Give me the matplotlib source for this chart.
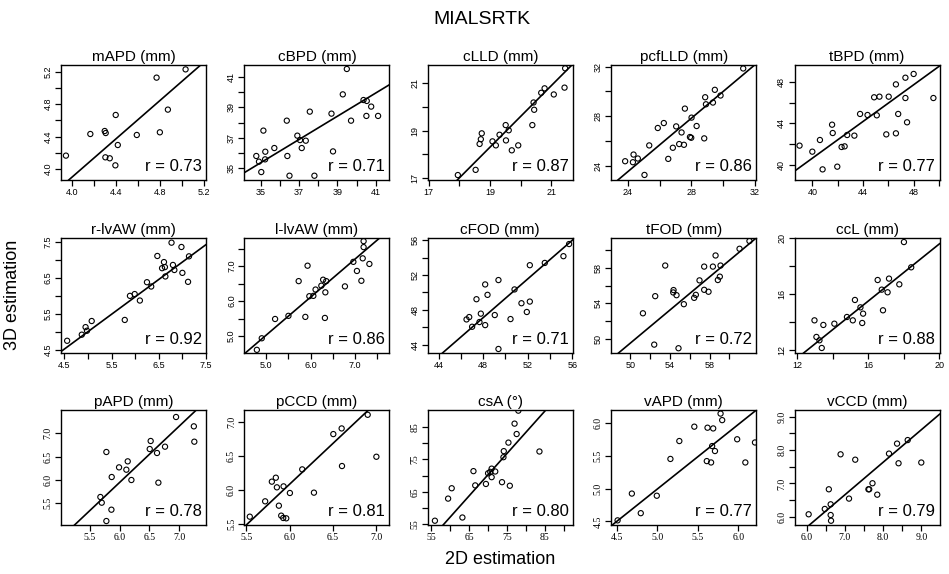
import numpy as np
import matplotlib
matplotlib.use("Agg")
import matplotlib.pyplot as plt
from matplotlib import font_manager

# ---------------- data ----------------
titles = ["mAPD (mm)", "cBPD (mm)", "cLLD (mm)", "pcfLLD (mm)", "tBPD (mm)",
          "r-lvAW (mm)", "l-lvAW (mm)", "cFOD (mm)", "tFOD (mm)", "ccL (mm)",
          "pAPD (mm)", "pCCD (mm)", "csA (°)", "vAPD (mm)", "vCCD (mm)"]
r_values = ["0.73", "0.71", "0.87", "0.86", "0.77",
            "0.92", "0.86", "0.71", "0.72", "0.88",
            "0.78", "0.81", "0.80", "0.77", "0.79"]

mAPD_x = [3.945, 4.167, 4.298, 4.307, 4.304, 4.344, 4.398, 4.417, 4.395, 4.590, 4.770, 4.800, 4.873, 5.034]
mAPD_y = [4.165, 4.432, 4.469, 4.444, 4.144, 4.132, 4.667, 4.296, 4.045, 4.420, 5.128, 4.453, 4.733, 5.230]

cBPD_x = [34.77, 34.91, 35.03, 35.14, 35.24, 35.23, 35.71, 36.36, 36.39, 36.50, 36.91, 37.05, 37.14,
          37.35, 37.56, 37.80, 38.69, 38.77, 39.28, 39.49, 39.71, 40.36, 40.53, 40.76, 40.51, 41.12]
cBPD_y = [35.81, 35.44, 34.76, 37.47, 36.09, 35.59, 36.33, 38.12, 35.81, 34.52, 37.14, 36.85, 36.33,
          36.81, 38.71, 34.52, 38.58, 36.11, 39.84, 41.50, 38.12, 39.47, 39.41, 39.04, 38.43, 38.43]

cLLD_x = [17.95, 18.53, 18.66, 18.70, 18.73, 19.08, 19.19, 19.31, 19.52, 19.51, 19.61, 19.71, 19.92,
          20.38, 20.42, 20.44, 20.67, 20.78, 21.08, 21.43, 21.45]
cLLD_y = [17.11, 17.33, 18.43, 18.63, 18.88, 18.54, 18.37, 18.82, 18.58, 19.23, 19.01, 18.16, 18.37,
          19.23, 20.19, 19.88, 20.60, 20.79, 20.53, 20.82, 21.64]

pcfLLD_x = [23.83, 24.32, 24.36, 24.63, 25.05, 25.35, 25.89, 26.27, 26.55, 26.84, 27.05, 27.24, 27.39,
            27.54, 27.60, 27.92, 28.00, 28.02, 28.34, 28.82, 28.88, 28.93, 29.37, 29.49, 29.85, 31.28]
pcfLLD_y = [24.35, 24.27, 24.89, 24.57, 23.24, 25.63, 27.04, 27.44, 24.54, 25.44, 27.17, 25.74, 26.68,
            25.68, 28.61, 26.31, 26.25, 27.88, 27.20, 26.20, 29.53, 28.96, 29.10, 30.13, 29.67, 31.86]

tBPD_x = [38.99, 40.00, 40.60, 40.81, 41.56, 41.61, 41.97, 42.31, 42.55, 42.75, 43.32, 43.77, 44.36,
          44.88, 45.09, 45.30, 45.84, 46.03, 46.60, 46.60, 46.78, 47.35, 47.35, 47.48, 48.00, 49.56]
tBPD_y = [41.86, 41.28, 42.40, 39.58, 43.87, 43.07, 39.84, 41.73, 41.79, 42.88, 42.82, 44.90, 44.80,
          46.50, 44.77, 46.56, 42.94, 46.56, 47.74, 43.04, 44.90, 46.43, 48.38, 44.10, 48.74, 46.43]

rlvAW_x = [4.56, 4.87, 4.95, 4.98, 5.08, 5.78, 5.89, 5.99, 6.10, 6.25, 6.34, 6.47, 6.57, 6.61, 6.63,
           6.64, 6.77, 6.80, 6.83, 6.98, 7.00, 7.14, 7.12]
rlvAW_y = [4.75, 4.92, 5.13, 5.03, 5.30, 5.33, 6.00, 6.05, 5.87, 6.38, 6.26, 7.11, 6.77, 6.94, 6.80,
           6.54, 7.48, 6.86, 6.72, 7.36, 6.64, 7.10, 6.39]

llvAW_x = [4.79, 4.90, 5.20, 5.50, 5.73, 5.88, 5.93, 5.97, 6.06, 6.11, 6.24, 6.28, 6.35, 6.33, 6.32,
           6.77, 6.96, 7.04, 7.14, 7.17, 7.19, 7.19, 7.32]
llvAW_y = [4.61, 4.94, 5.49, 5.58, 6.57, 5.55, 7.01, 6.14, 6.15, 6.33, 6.44, 6.61, 6.57, 6.25, 5.52,
           6.42, 7.12, 6.86, 6.58, 7.22, 7.71, 7.54, 7.06]

cFOD_x = [46.51, 46.75, 47.01, 47.40, 47.67, 47.79, 48.18, 48.18, 48.39, 49.04, 49.37, 49.37, 50.45,
          50.81, 51.43, 51.91, 52.18, 52.18, 53.52, 55.19, 55.70]
cFOD_y = [46.92, 47.19, 46.08, 49.23, 46.62, 47.58, 50.92, 46.27, 49.73, 47.42, 51.42, 43.54, 46.96,
          50.35, 48.77, 47.77, 48.96, 53.12, 53.38, 54.15, 55.54]

tFOD_x = [51.28, 52.42, 52.52, 53.53, 54.37, 54.34, 54.67, 54.87, 55.41, 56.45, 56.62, 56.99, 57.46,
          57.46, 57.90, 58.34, 58.61, 58.84, 59.04, 59.11, 61.03, 62.03]
tFOD_y = [52.86, 49.31, 54.80, 58.27, 55.49, 55.22, 54.91, 48.90, 53.89, 54.61, 54.95, 56.59, 58.15,
          55.52, 55.30, 58.15, 59.41, 56.63, 57.01, 58.27, 60.17, 61.05]

ccL_x = [12.97, 13.08, 13.25, 13.38, 13.47, 14.09, 14.80, 15.13, 15.25, 15.56, 15.66, 15.71, 16.53,
         16.76, 16.83, 17.09, 17.17, 17.75, 18.01, 18.42]
ccL_y = [14.10, 12.91, 12.67, 12.12, 13.77, 13.86, 14.34, 14.10, 15.56, 15.03, 13.91, 14.58, 16.99,
         16.30, 14.82, 16.11, 17.09, 16.68, 19.71, 17.90]

pAPD_x = [5.775, 5.674, 5.697, 5.775, 5.865, 5.860, 5.989, 6.112, 6.135, 6.197, 6.506, 6.522, 6.629,
          6.652, 6.764, 7.258, 6.950, 7.250]
pAPD_y = [6.600, 5.636, 5.514, 5.121, 6.064, 5.364, 6.271, 6.221, 6.400, 6.000, 6.664, 6.836, 6.579,
          5.943, 6.714, 6.821, 7.350, 7.150]

pCCD_x = [5.542, 5.719, 5.796, 5.842, 5.854, 5.877, 5.904, 5.927, 5.962, 5.931, 6.004, 6.146, 6.281,
          6.504, 6.604, 7.000, 6.600, 6.900]
pCCD_y = [5.607, 5.832, 6.120, 6.178, 6.037, 5.768, 5.622, 5.588, 5.583, 6.051, 5.954, 6.300, 5.959,
          6.817, 6.349, 6.485, 6.900, 7.100]

csA_x = [55.94, 59.43, 60.38, 63.21, 66.13, 66.60, 69.43, 70.00, 70.57, 70.94, 70.94, 71.89, 73.68,
         74.06, 74.15, 75.38, 75.75, 77.55, 83.58, 77.00, 78.00]
csA_y = [56.10, 62.91, 66.10, 57.09, 71.37, 66.98, 67.42, 70.71, 71.15, 72.14, 69.51, 71.26, 67.97,
         75.66, 77.53, 80.16, 66.87, 82.80, 77.42, 86.00, 90.00]

vAPD_x = [4.509, 4.685, 4.795, 4.993, 5.161, 5.271, 5.456, 5.610, 5.663, 5.619, 5.689, 5.676, 5.711,
          5.985, 6.086, 6.205, 5.780, 5.800]
vAPD_y = [4.516, 4.926, 4.626, 4.893, 5.456, 5.730, 5.950, 5.423, 5.402, 5.934, 5.923, 5.653, 5.577,
          5.757, 5.402, 5.708, 6.150, 6.050]

vCCD_x = [6.048, 6.471, 6.577, 6.625, 6.625, 6.635, 6.885, 7.106, 7.269, 7.615, 7.635, 7.721, 7.846,
          8.154, 8.365, 8.404, 8.644, 9.000, 8.750]
vCCD_y = [6.075, 6.235, 6.824, 6.374, 6.053, 5.882, 7.872, 6.545, 7.711, 6.824, 6.824, 7.005, 6.663,
          7.893, 8.193, 7.604, 8.299, 7.626, 9.300]

xs = [mAPD_x, cBPD_x, cLLD_x, pcfLLD_x, tBPD_x, rlvAW_x, llvAW_x, cFOD_x, tFOD_x, ccL_x,
      pAPD_x, pCCD_x, csA_x, vAPD_x, vCCD_x]
ys = [mAPD_y, cBPD_y, cLLD_y, pcfLLD_y, tBPD_y, rlvAW_y, llvAW_y, cFOD_y, tFOD_y, ccL_y,
      pAPD_y, pCCD_y, csA_y, vAPD_y, vCCD_y]

# fitted line (slope, intercept)
line_slope = [1.182, 0.760, 1.305, 1.079, 0.8815, 0.969, 1.086, 1.109, 0.938, 1.022,
              1.200, 1.197, 1.304, 0.989, 0.973]
line_icpt = [-0.829, 8.77, -6.50, -2.39, 5.39, 0.158, -0.40, -6.11, 2.57, -0.87,
             -1.25, -1.10, -20.99, 0.051, -0.15]

# ---------------- axis configuration ----------------
xlims = [(3.90, 5.22), (34.15, 41.71), (16.97, 21.70), (22.95, 32.10), (38.60, 50.05),
         (4.43, 7.50), (4.51, 7.77), (43.04, 56.03), (48.08, 62.71), (11.85, 20.02),
         (5.01, 7.455), (5.48, 7.15), (54.06, 92.4), (4.43, 6.22), (5.68, 9.48)]
ylims = [(3.864, 5.284), (34.24, 41.76), (16.90, 21.78), (22.83, 32.14), (38.56, 49.60),
         (4.41, 7.61), (4.52, 7.80), (43.08, 56.23), (48.36, 61.39), (11.76, 19.93),
         (5.036, 7.50), (5.485, 7.17), (54.78, 90.2), (4.445, 6.205), (5.754, 9.20)]
# (start, stop, step, label every k, decimals)
xtick_cfg = [(4.0, 5.2, 0.2, 2, 1), (35, 41, 1, 2, 0), (17, 21, 1, 2, 0), (24, 32, 2, 2, 0), (40, 50, 2, 2, 0),
             (4.5, 7.5, 0.5, 2, 1), (5.0, 7.5, 0.5, 2, 1), (44, 56, 2, 2, 0), (50, 60, 2, 2, 0), (12, 20, 2, 2, 0),
             (5.5, 7.0, 0.5, 1, 1), (5.5, 7.0, 0.5, 1, 1), (55, 90, 5, 2, 0), (4.5, 6.0, 0.5, 1, 1), (6.0, 9.0, 0.5, 2, 1)]
ytick_cfg = [(4.0, 5.2, 0.2, 2, 1), (35, 41, 1, 2, 0), (17, 21, 1, 2, 0), (24, 32, 2, 2, 0), (40, 48, 2, 2, 0),
             (4.5, 7.5, 0.5, 2, 1), (5.0, 7.5, 0.5, 2, 1), (44, 56, 2, 2, 0), (50, 60, 2, 2, 0), (12, 20, 2, 2, 0),
             (5.5, 7.0, 0.5, 1, 1), (5.5, 7.0, 0.5, 1, 1), (55, 85, 5, 2, 0), (4.5, 6.0, 0.5, 1, 1), (6.0, 9.0, 0.5, 2, 1)]

W, H = 949, 574
fig = plt.figure(figsize=(W / 100, H / 100), dpi=100)

col_left = [61, 244.4, 427.8, 611.2, 794.6]
row_top = [65, 238, 410]
aw, ah = 145, 115

sans = "Liberation Sans"
serif = "Liberation Serif"
installed = {f.name for f in font_manager.fontManager.ttflist}
tick_sans = "Liberation Sans Narrow" if "Liberation Sans Narrow" in installed else sans

def make_ticks(cfg):
    a, b, st, k, dec = cfg
    n = int(round((b - a) / st)) + 1
    t = [a + i * st for i in range(n)]
    lab = [(f"{v:.{dec}f}" if i % k == 0 else "") for i, v in enumerate(t)]
    return t, lab

for i in range(15):
    r, c = divmod(i, 5)
    L = col_left[c]
    T = row_top[r]
    ax = fig.add_axes([L / W, 1 - (T + ah) / H, aw / W, ah / H])
    ax.scatter(xs[i], ys[i], s=14, facecolors="none", edgecolors="black", linewidths=0.8, zorder=3)
    ax.axline((0, line_icpt[i]), slope=line_slope[i], color="black", lw=1.2, zorder=2)
    ax.set_xlim(*xlims[i])
    ax.set_ylim(*ylims[i])
    xt, xl = make_ticks(xtick_cfg[i])
    yt, yl = make_ticks(ytick_cfg[i])
    if r == 2:
        tfont, tsize = serif, 7
    else:
        tfont, tsize = tick_sans, 7 if tick_sans != sans else 6.5
    ax.set_xticks(xt)
    ax.set_xticklabels(xl, fontsize=tsize, family=tfont)
    ax.set_yticks(yt)
    ax.set_yticklabels(yl, fontsize=tsize, family=tfont, rotation=90, va="center")
    ax.tick_params(direction="out", length=4, width=0.9, pad=2, colors="black")
    for sp in ax.spines.values():
        sp.set_linewidth(1.0)
        sp.set_color("black")
    ax.set_title(titles[i], fontsize=11, family=sans, pad=3)
    ax.text(0.97, 0.05, f"r = {r_values[i]}", transform=ax.transAxes, ha="right", va="bottom",
            fontsize=12, family=sans)

fig.text(482 / W, 1 - 20 / H, "MIALSRTK", ha="center", va="center", fontsize=14, family=sans)
fig.text(13 / W, 1 - 295 / H, "3D estimation", ha="center", va="center", rotation=90,
         fontsize=13, family=sans)
fig.text(500 / W, 1 - 560 / H, "2D estimation", ha="center", va="center", fontsize=13, family=sans)

fig.savefig("out.png", dpi=100, facecolor="white")
